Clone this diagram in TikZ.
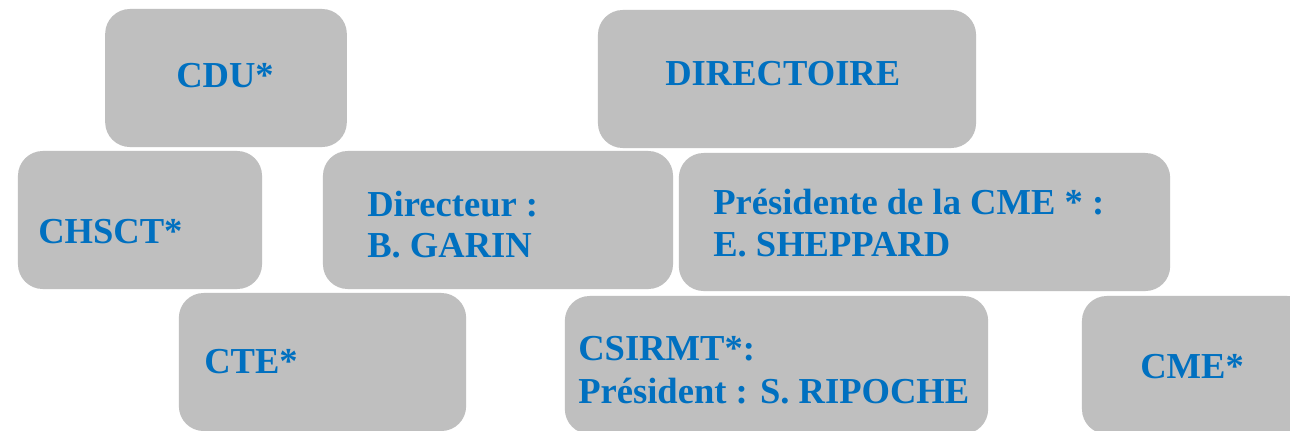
\documentclass[tikz,border=0pt]{standalone}
\usepackage{fontspec}
\setmainfont{Liberation Serif}
\definecolor{boxgray}{HTML}{BFBFBF}
\definecolor{textblue}{HTML}{0070C0}
\tikzset{
  box/.style={fill=boxgray,rounded corners=0.62cm,inner sep=0pt},
  txt/.style={anchor=base west,inner sep=0pt,text=textblue,font=\fontsize{26}{30}\selectfont\bfseries}
}
\begin{document}
\begin{tikzpicture}[x=0.025cm,y=-0.025cm]
    \clip (0,0) rectangle (1290,430);
    \fill[white] (0,0) rectangle (1290,430);

    % boxes
    \node [box,minimum width=6.04cm,minimum height=3.45cm] (cdu) at (226,78) {};
    \node [box,minimum width=9.45cm,minimum height=3.45cm] (dir) at (787,79) {};
    \node [box,minimum width=6.1cm,minimum height=3.45cm] (chsct) at (140,220) {};
    \node [box,minimum width=8.75cm,minimum height=3.45cm] (directeur) at (498,220) {};
    \node [box,minimum width=12.28cm,minimum height=3.45cm] (pres) at (924.5,222) {};
    \node [box,minimum width=7.18cm,minimum height=3.45cm] (cte) at (322.5,362) {};
    \node [box,minimum width=10.58cm,minimum height=3.45cm] (csirmt) at (776.5,365) {};
    \node [box,minimum width=5.75cm,minimum height=3.45cm] (cme) at (1197,365) {};

    % labels
    \node [txt] (cdut) at (176,87) {CDU*};
    \node [txt] (dirt) at (665,85) {DIRECTOIRE};
    \node [txt] (chsctt) at (38,243) {CHSCT*};
    \node [txt] (directeura) at (367,216) {Directeur :};
    \node [txt] (directeurb) at (367,257) {B. GARIN};
    \node [txt] (presa) at (713,214) {Présidente de la CME * :};
    \node [txt] (presb) at (713,256) {E. SHEPPARD};
    \node [txt] (ctet) at (204,373) {CTE*};
    \node [txt] (csirmta) at (578,360) {CSIRMT*:};
    \node [txt] (csirmtb) at (578,403) {Président : S. RIPOCHE};
    \node [txt] (cmet) at (1140,378) {CME*};

  \end{tikzpicture}
\end{document}
